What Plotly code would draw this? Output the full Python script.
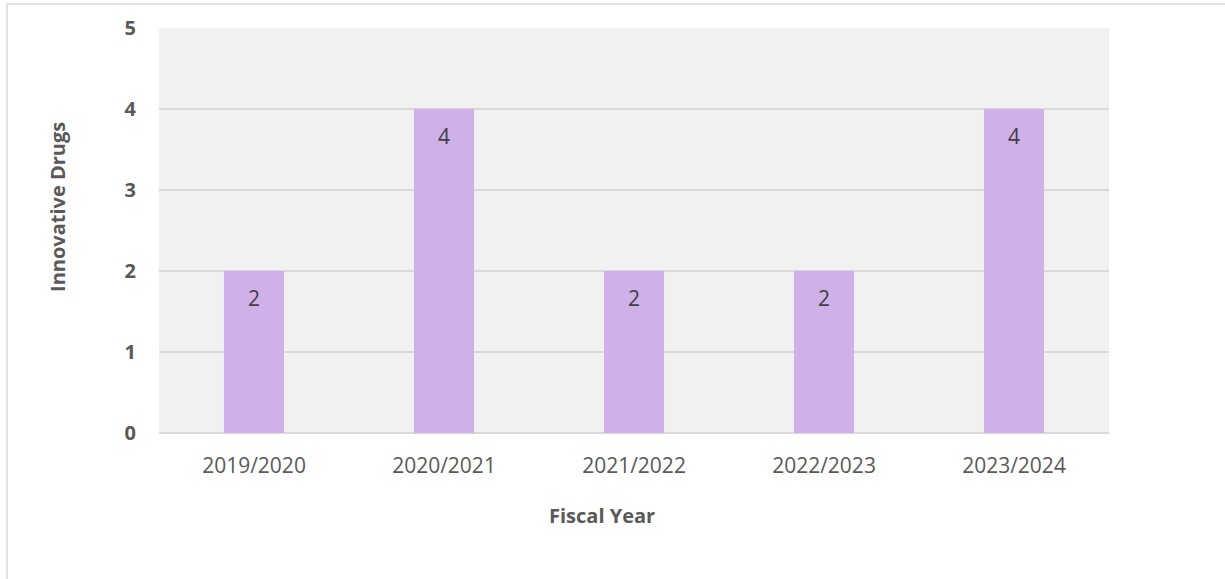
import plotly.graph_objects as go

years = ["2019/2020", "2020/2021", "2021/2022", "2022/2023", "2023/2024"]
drugs = [2, 4, 2, 2, 4]
x_title = "Fiscal Year"
y_title = "Innovative Drugs"

BAR = "#cfb0e8"
GRID = "#d9d9d9"
TXT = "#595959"
LBL = "#404040"
FONT = "Open Sans"

fig = go.Figure(
    go.Bar(
        x=years,
        y=drugs,
        marker=dict(color=BAR, line=dict(width=0)),
        width=0.316,
        hoverinfo="skip",
    )
)

annotations = [
    dict(x=yr, y=v, xref="x", yref="y", text=str(v), showarrow=False,
         yanchor="middle", yshift=-27,
         font=dict(family=FONT, size=21, color=LBL))
    for yr, v in zip(years, drugs)
]
annotations += [
    dict(x=0.4663, y=-0.2049, xref="paper", yref="paper", text="<b>%s</b>" % x_title,
         showarrow=False, xanchor="center", yanchor="middle",
         font=dict(family=FONT, size=20, color=TXT)),
    dict(x=-0.1074, y=0.558, xref="paper", yref="paper", text="<b>%s</b>" % y_title,
         showarrow=False, xanchor="center", yanchor="middle", textangle=-90,
         font=dict(family=FONT, size=20, color=TXT)),
]

fig.update_layout(
    width=1225,
    height=579,
    margin=dict(l=159, r=116, t=28, b=146),
    paper_bgcolor="white",
    plot_bgcolor="#f1f1f1",
    showlegend=False,
    font=dict(family=FONT, color=TXT),
    xaxis=dict(
        tickfont=dict(family=FONT, size=21, color=TXT),
        ticks="outside", ticklen=14, tickcolor="rgba(0,0,0,0)",
        showgrid=False,
        showline=False,
    ),
    yaxis=dict(
        range=[0, 5],
        dtick=1,
        tickfont=dict(family=FONT, size=20, color=TXT),
        tickprefix="<b>", ticksuffix="</b>",
        showgrid=True, gridcolor=GRID, gridwidth=1.5,
        zeroline=True, zerolinecolor=GRID, zerolinewidth=2,
        ticks="outside", ticklen=18, tickcolor="rgba(0,0,0,0)",
    ),
    annotations=annotations,
    shapes=[
        dict(type="rect", xref="paper", yref="paper",
             x0=-0.16, x1=1.2, y0=-0.45, y1=1.0593,
             line=dict(color=GRID, width=1.5), fillcolor="rgba(0,0,0,0)", layer="below"),
    ],
)

fig.write_html("out.html", config={"displayModeBar": False},
               post_script="document.body.style.margin='0px';")
